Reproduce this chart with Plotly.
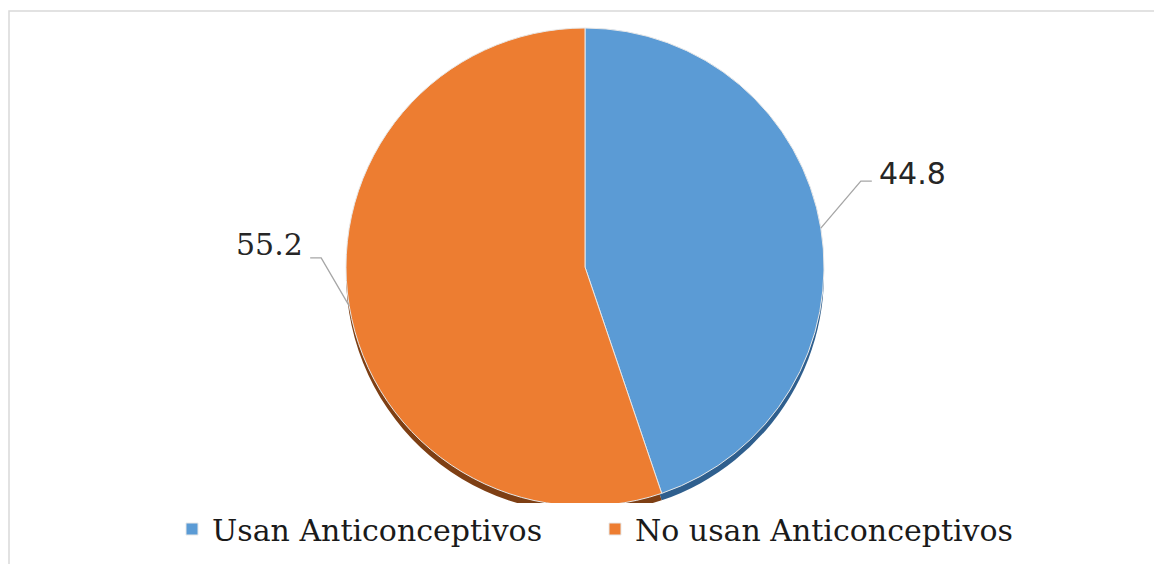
import math
import plotly.graph_objects as go

labels = ["Usan Anticonceptivos", "No usan Anticonceptivos"]
values = [44.8, 55.2]
colors = ["#5B9BD5", "#ED7D31"]
shadow_colors = ["#2F5F8E", "#7E3F14"]

# figure size (page has an 8px body margin)
W, H = 1154, 556
OFF = 8

def px2x(px):
    return (px - OFF) / W

def py2y(py):
    return 1 - (py - OFF) / H

cx, cy, r = 585, 267, 239
dom_x = [px2x(cx - r), px2x(cx + r)]
dom_y = [py2y(cy + r), py2y(cy - r)]
sh = 7
dom_y_sh = [dom_y[0] - sh / H, dom_y[1] - sh / H]

fig = go.Figure()
fig.add_trace(go.Pie(labels=labels, values=values, sort=False, direction="clockwise",
                     rotation=0, marker=dict(colors=shadow_colors), textinfo="none",
                     hoverinfo="skip", showlegend=False, domain=dict(x=dom_x, y=dom_y_sh)))
fig.add_trace(go.Pie(labels=labels, values=values, sort=False, direction="clockwise",
                     rotation=0, marker=dict(colors=colors, line=dict(color="#E8E8E8", width=1)),
                     textinfo="none", domain=dict(x=dom_x, y=dom_y)))

total = sum(values)
cum = 0
styles = [
    dict(elbow=(40, -47), end=(51, -47), anchor="left", font="DejaVu Sans", dy=-8),
    dict(elbow=(-28, -48), end=(-39, -48), anchor="right", font="DejaVu Serif", dy=-13),
]
for v, st in zip(values, styles):
    mid = (cum + v / 2) / total * 2 * math.pi
    cum += v
    px = cx + r * math.sin(mid)
    py = cy - r * math.cos(mid)
    ex, ey = px + st["elbow"][0], py + st["elbow"][1]
    fx, fy = px + st["end"][0], py + st["end"][1]
    path = f"M {px2x(px)} {py2y(py)} L {px2x(ex)} {py2y(ey)} L {px2x(fx)} {py2y(fy)}"
    fig.add_shape(type="path", xref="paper", yref="paper", path=path,
                  line=dict(color="#A6A6A6", width=1.3))
    tx = fx + (5 if st["anchor"] == "left" else -5)
    fig.add_annotation(x=px2x(tx), y=py2y(fy + st["dy"]), xref="paper", yref="paper",
                       text=f"{v}", showarrow=False, xanchor=st["anchor"], yanchor="middle",
                       font=dict(family=st["font"], size=30, color="#262626"))

fig.add_shape(type="rect", xref="paper", yref="paper", x0=px2x(9), x1=px2x(1159),
              y0=-0.02, y1=py2y(11), line=dict(color="#D9D9D9", width=1.5))

fig.update_layout(
    width=W, height=H, margin=dict(l=0, r=0, t=0, b=0),
    paper_bgcolor="white", plot_bgcolor="white",
    legend=dict(orientation="h", x=px2x(595), xanchor="center", y=py2y(529), yanchor="middle",
                font=dict(family="DejaVu Serif", size=30, color="#1A1A1A"),
                entrywidth=378, entrywidthmode="pixels"),
)
fig.write_html("out.html")
